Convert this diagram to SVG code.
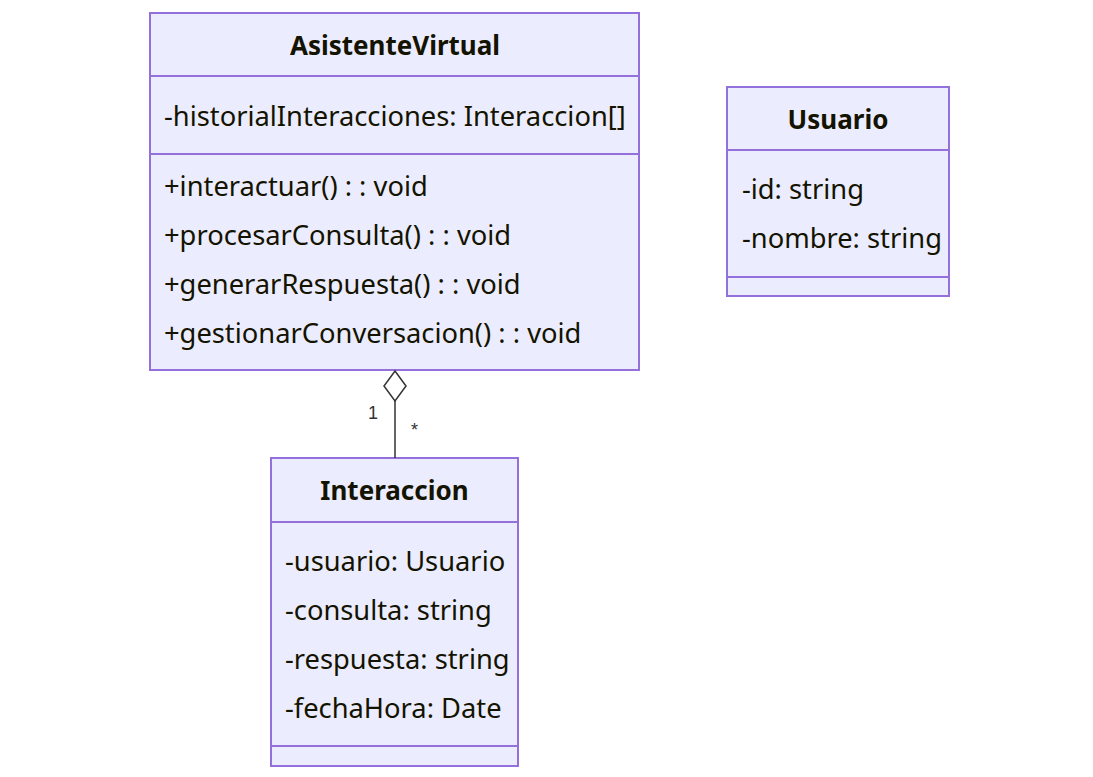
<svg xmlns="http://www.w3.org/2000/svg" width="1093" height="777" viewBox="0 0 1093 777">
<style>
.box{fill:#ECECFF;stroke:#9370DB;stroke-width:2}
.div{stroke:#9370DB;stroke-width:2}
.title{font-family:"Noto Sans",sans-serif;font-weight:bold;font-size:26px;fill:#131300;text-anchor:middle}
.mem{font-family:"Noto Sans",sans-serif;font-size:27.3px;fill:#131300}
.lbl{font-family:"Liberation Sans",sans-serif;font-size:18px;fill:#333333}
.edge{stroke:#333333;stroke-width:1.5;fill:none}
</style>
<rect width="1093" height="777" fill="#ffffff"/>
<g id="AsistenteVirtual">
<rect class="box" x="150" y="13" width="489" height="357"/>
<line class="div" x1="150" y1="76" x2="639" y2="76"/>
<line class="div" x1="150" y1="154" x2="639" y2="154"/>
<text class="title" x="395" y="55">AsistenteVirtual</text>
<text class="mem" x="164" y="126">-historialInteracciones: Interaccion[]</text>
<text class="mem" x="164" y="196">+interactuar() : : void</text>
<text class="mem" x="164" y="245">+procesarConsulta() : : void</text>
<text class="mem" x="164" y="294">+generarRespuesta() : : void</text>
<text class="mem" x="164" y="343">+gestionarConversacion() : : void</text>
</g>
<g id="Usuario">
<rect class="box" x="727" y="87" width="222" height="209"/>
<line class="div" x1="727" y1="150" x2="949" y2="150"/>
<line class="div" x1="727" y1="277" x2="949" y2="277"/>
<text class="title" x="838" y="129">Usuario</text>
<text class="mem" x="742" y="199">-id: string</text>
<text class="mem" x="742" y="248">-nombre: string</text>
</g>
<g id="Interaccion">
<rect class="box" x="271" y="458" width="247" height="308"/>
<line class="div" x1="271" y1="522" x2="518" y2="522"/>
<line class="div" x1="271" y1="746" x2="518" y2="746"/>
<text class="title" x="394.5" y="500">Interaccion</text>
<text class="mem" x="285" y="571">-usuario: Usuario</text>
<text class="mem" x="285" y="620">-consulta: string</text>
<text class="mem" x="285" y="669">-respuesta: string</text>
<text class="mem" x="285" y="718">-fechaHora: Date</text>
</g>
<g id="connectors">
<line class="edge" x1="395" y1="401" x2="395" y2="458"/>
<path class="edge" d="M395,371 L406,386 L395,401 L384,386 Z" fill="#ffffff"/>
<text class="lbl" x="368" y="419">1</text>
<text class="lbl" x="411" y="436">*</text>
</g>
</svg>
